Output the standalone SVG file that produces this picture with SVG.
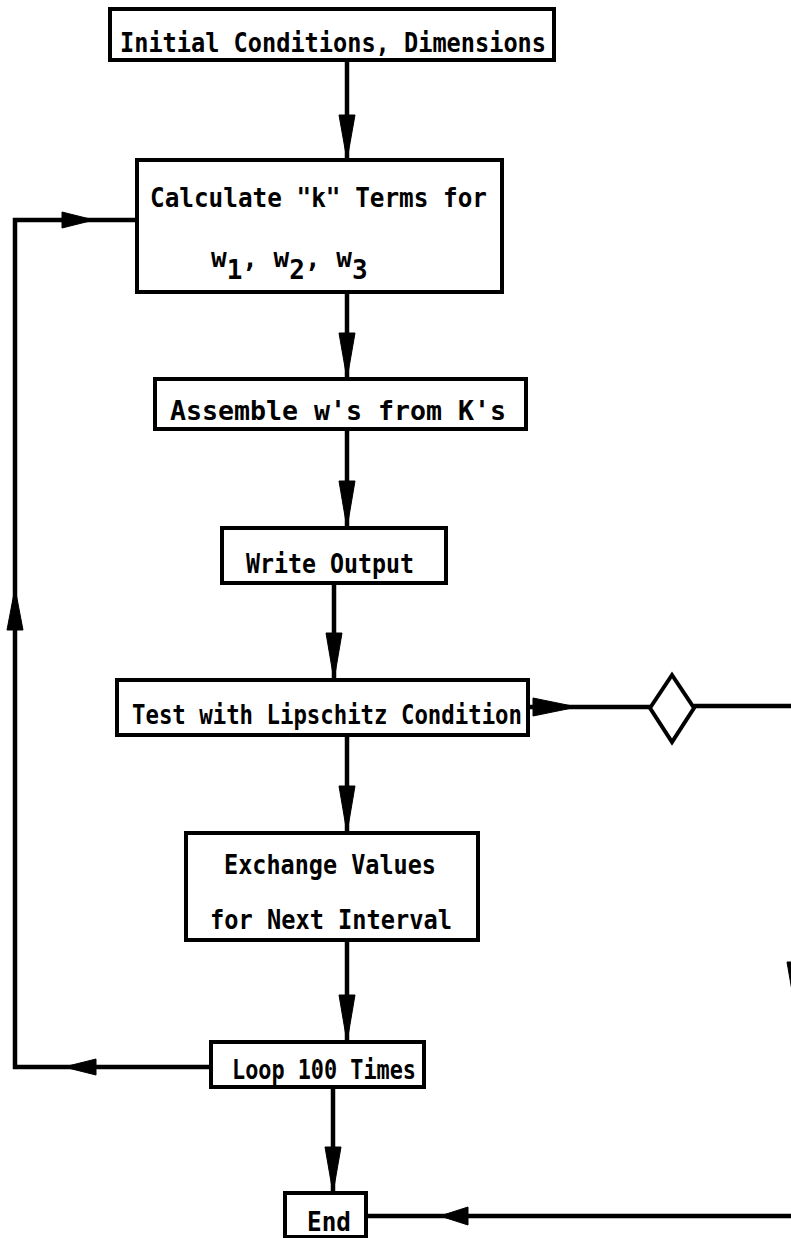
<svg xmlns="http://www.w3.org/2000/svg" width="791" height="1238" viewBox="0 0 791 1238">
<style>
.box{fill:#fff;stroke:#000;stroke-width:4}
.t{font-family:"DejaVu Sans Mono","Liberation Mono",monospace;font-weight:bold;font-size:26px;fill:#000}
.ln{fill:none;stroke:#000;stroke-width:4.5}
.ah{fill:#000;stroke:#000;stroke-width:1}
</style>
<rect width="791" height="1238" fill="#fff"/>
<g id="connectors">
<path class="ln" d="M347 60V160"/><polygon class="ah" points="339,115 355,115 347,160"/>
<path class="ln" d="M347 292V379"/><polygon class="ah" points="339,333 355,333 347,379"/>
<path class="ln" d="M347 429V528"/><polygon class="ah" points="339,481 355,481 347,528"/>
<path class="ln" d="M334 583V680"/><polygon class="ah" points="326,633 342,633 334,680"/>
<path class="ln" d="M347 735V833"/><polygon class="ah" points="339,786 355,786 347,833"/>
<path class="ln" d="M347 940V1042"/><polygon class="ah" points="339,995 355,995 347,1042"/>
<path class="ln" d="M333 1087V1193"/><polygon class="ah" points="325,1147 341,1147 333,1193"/>
<path class="ln" d="M528 707H650"/><polygon class="ah" points="533,698 533,716 577,707"/>
<path class="ln" d="M694 706H800"/>
<polygon class="ah" points="787,962 803,962 795,1008"/>
<path class="ln" d="M800 1216H366"/><polygon class="ah" points="468,1207 468,1225 440,1216"/>
<path class="ln" d="M211 1067H15V220H137"/>
<polygon class="ah" points="96,1059 96,1075 64,1067"/>
<polygon class="ah" points="7,630 23,630 15,588"/>
<polygon class="ah" points="62,212 62,228 94,220"/>
</g>
<g id="n1"><rect class="box" x="110" y="9" width="444" height="51"/><text class="t" x="120" y="52" textLength="426" lengthAdjust="spacingAndGlyphs">Initial Conditions, Dimensions</text></g>
<g id="n2"><rect class="box" x="137" y="160" width="365" height="132"/><text class="t" x="150" y="207" textLength="337" lengthAdjust="spacingAndGlyphs">Calculate "k" Terms for</text>
<text class="t" x="211" y="267">w<tspan dy="12">1</tspan><tspan dy="-12">, w</tspan><tspan dy="12">2</tspan><tspan dy="-12">, w</tspan><tspan dy="12">3</tspan></text></g>
<g id="n3"><rect class="box" x="155" y="379" width="371" height="50"/><text class="t" x="170" y="420" textLength="336" lengthAdjust="spacingAndGlyphs">Assemble w's from K's</text></g>
<g id="n4"><rect class="box" x="222" y="528" width="224" height="55"/><text class="t" x="246" y="573" textLength="168" lengthAdjust="spacingAndGlyphs">Write Output</text></g>
<g id="n5"><rect class="box" x="117" y="680" width="411" height="55"/><text class="t" x="132" y="724" textLength="390" lengthAdjust="spacingAndGlyphs">Test with Lipschitz Condition</text></g>
<g id="n6"><polygon class="box" points="650,708 672,675 694,708 672,742"/></g>
<g id="n7"><rect class="box" x="186" y="833" width="292" height="107"/><text class="t" x="224" y="874" textLength="212" lengthAdjust="spacingAndGlyphs">Exchange Values</text><text class="t" x="210" y="929" textLength="242" lengthAdjust="spacingAndGlyphs">for Next Interval</text></g>
<g id="n8"><rect class="box" x="211" y="1042" width="213" height="45"/><text class="t" x="232" y="1079" textLength="184" lengthAdjust="spacingAndGlyphs">Loop 100 Times</text></g>
<g id="n9"><rect class="box" x="285" y="1193" width="81" height="44"/><text class="t" x="307" y="1231" textLength="44" lengthAdjust="spacingAndGlyphs">End</text></g>
</svg>
